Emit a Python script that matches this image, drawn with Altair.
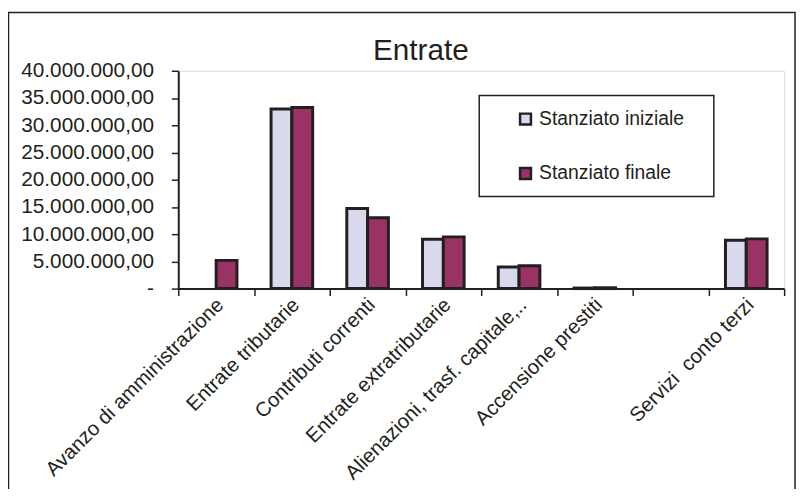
import altair as alt
import pandas as pd

# ---- data ----
categories = [
    "Avanzo di amministrazione",
    "Entrate tributarie",
    "Contributi correnti",
    "Entrate extratributarie",
    "Alienazioni, trasf. capitale,..",
    "Accensione prestiti",
    " ",
    "Servizi\u00a0 conto terzi",
]
series = ["Stanziato iniziale", "Stanziato finale"]
iniziale = [None, 33000000, 14700000, 9050000, 3960000, 100000, None, 8870000]
finale = [5180000, 33240000, 13000000, 9500000, 4200000, 150000, None, 9130000]
y_ticks = [0, 5000000, 10000000, 15000000, 20000000, 25000000, 30000000, 35000000, 40000000]
title_text = "Entrate"

rows = []
for c, a, b in zip(categories, iniziale, finale):
    if a is not None:
        rows.append({"cat": c, "serie": series[0], "val": a})
    if b is not None:
        rows.append({"cat": c, "serie": series[1], "val": b})
df = pd.DataFrame(rows)

FONT = "Liberation Sans"
INK = "#231f20"
C_INI = "#d9d9ee"
C_FIN = "#993366"

bars = alt.Chart(df).mark_bar(stroke=INK, strokeWidth=3).encode(
    x=alt.X(
        "cat:N",
        sort=categories,
        scale=alt.Scale(domain=categories, paddingInner=0, paddingOuter=0),
        axis=alt.Axis(
            title=None, labelAngle=-45, labelAlign="right", labelBaseline="middle",
            labelPadding=6, labelOffset=4, labelFont=FONT, labelFontSize=20.5,
            labelColor=INK, labelLimit=400, labelOverlap=False,
            domainColor=INK, domainWidth=2, tickColor=INK, tickWidth=1.5,
            tickSize=7, tickBand="extent",
        ),
    ),
    xOffset=alt.XOffset("serie:N", sort=series,
                        scale=alt.Scale(domain=series, paddingInner=0, paddingOuter=0.82)),
    y=alt.Y(
        "val:Q",
        scale=alt.Scale(domain=[0, 40000000], nice=False),
        axis=alt.Axis(
            title=None, values=y_ticks, format=",.2f",
            labelExpr="datum.value == 0 ? '-\u00a0\u00a0' : datum.label",
            grid=False, labelFont=FONT, labelFontSize=21, labelColor=INK,
            labelPadding=18, domainColor=INK, domainWidth=2, tickColor=INK,
            tickWidth=1.5, tickSize=7,
        ),
    ),
    color=alt.Color(
        "serie:N",
        scale=alt.Scale(domain=series, range=[C_INI, C_FIN]),
        legend=alt.Legend(
            title=None, orient="none", legendX=341, legendY=39, direction="vertical",
            padding=0, rowPadding=33, symbolType="square", symbolSize=121,
            symbolStrokeColor=INK, symbolStrokeWidth=2.5, labelFont=FONT,
            labelFontSize=19.5, labelColor=INK, labelOffset=4,
        ),
    ),
)

one = pd.DataFrame({"t": [title_text]})

frame = alt.Chart(one).mark_rect(filled=False, stroke=INK, strokeWidth=1.5).encode(
    x=alt.value(-171.5), x2=alt.value(623), y=alt.value(-59), y2=alt.value(440)
)

legend_box = alt.Chart(one).mark_rect(filled=False, stroke=INK, strokeWidth=1.5).encode(
    x=alt.value(304), x2=alt.value(541), y=alt.value(25), y2=alt.value(127)
)

title = alt.Chart(one).mark_text(
    font=FONT, fontSize=30, color=INK, align="center", baseline="alphabetic"
).encode(text="t:N", x=alt.value(245), y=alt.value(-11))

chart = alt.layer(frame, bars, legend_box, title).properties(
    width=612, height=220,
    autosize=alt.AutoSizeParams(type="none"),
    padding={"left": 172, "top": 61, "right": 13, "bottom": 200},
).configure_view(
    stroke="#a6a6a6", strokeWidth=2.5
).configure(
    locale={"number": {"decimal": ",", "thousands": ".", "grouping": [3], "currency": ["€", ""]}}
)

chart.save("out.html", embed_options={"renderer": "svg", "actions": False})
